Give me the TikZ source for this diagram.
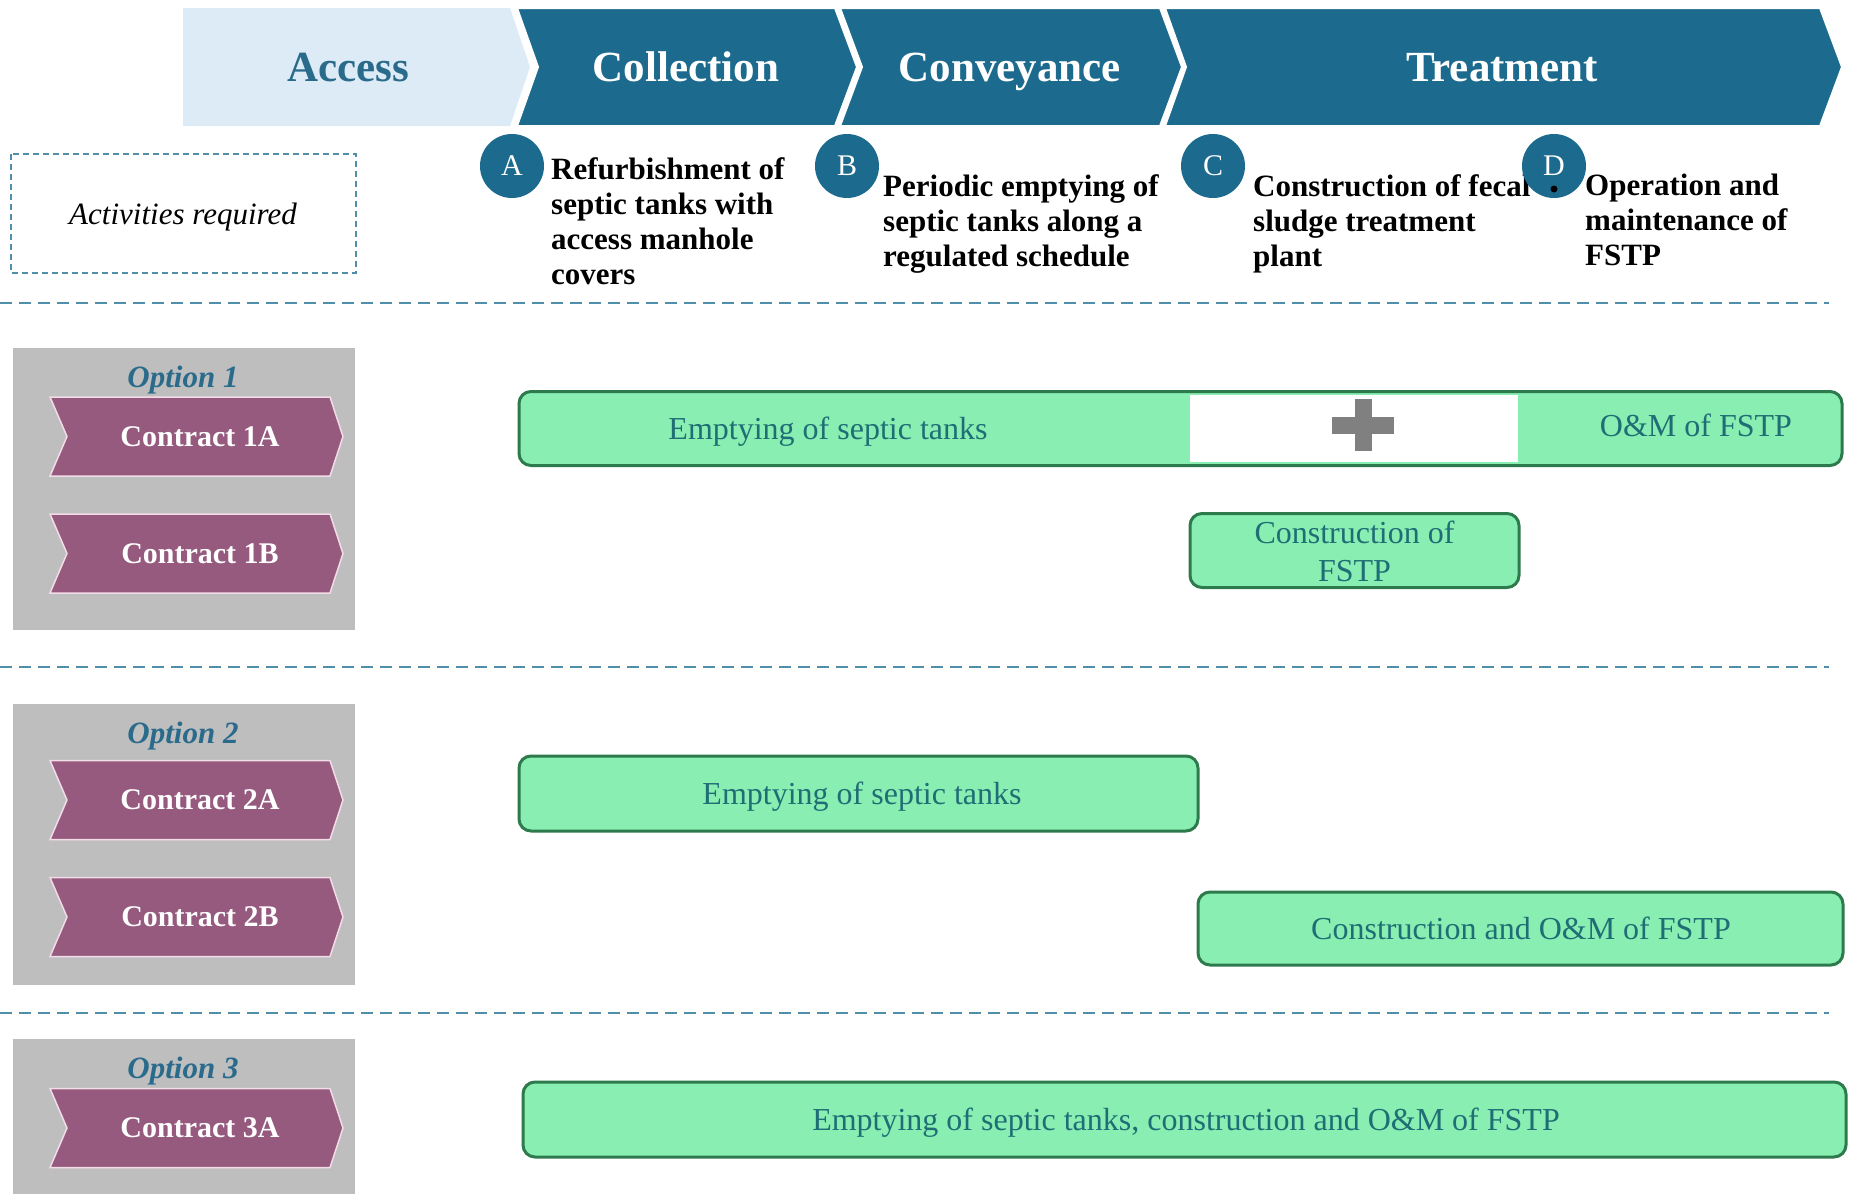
\documentclass[tikz,border=0pt]{standalone}
\usepackage{fontspec}
\setmainfont{Liberation Serif}
\definecolor{hdr}{HTML}{1C6A8D}
\definecolor{acc}{HTML}{DDEBF6}
\definecolor{acctext}{HTML}{2A6B8C}
\definecolor{purp}{HTML}{955A7E}
\definecolor{purpb}{HTML}{F2DCE6}
\definecolor{panel}{HTML}{BEBEBE}
\definecolor{mint}{HTML}{88EEB1}
\definecolor{mintb}{HTML}{2D7A4C}
\definecolor{minttext}{HTML}{1F6E75}
\definecolor{sepc}{HTML}{4F8FAA}
\definecolor{plusc}{HTML}{808080}
\begin{document}
\begin{tikzpicture}[x=1pt,y=-1pt,
  tbox/.style={text height=#1,text depth=0pt},
  hdrshape/.style={fill=hdr,draw=white,line width=2pt},
  hdrtext/.style={tbox=28.4pt,text=white,font=\fontsize{43}{50}\selectfont\bfseries,inner sep=0pt},
  circ/.style={circle,fill=hdr,minimum size=64pt,inner sep=0pt,text=white,font=\fontsize{30}{34}\selectfont},
  acttext/.style={anchor=north west,align=left,inner sep=0pt,font=\fontsize{31}{35}\selectfont\bfseries,text=black},
  sepline/.style={draw=sepc,line width=2pt,dash pattern=on 12pt off 7pt},
  panelbox/.style={fill=panel},
  opttext/.style={tbox=20.5pt,text=acctext,font=\fontsize{31}{36}\selectfont\bfseries\itshape,inner sep=0pt},
  contract/.style={fill=purp,draw=purpb,line width=1.5pt},
  ctext/.style={tbox=19.8pt,text=white,font=\fontsize{30}{34}\selectfont\bfseries,inner sep=0pt},
  bar/.style={draw=mintb,fill=mint,line width=3pt,rounded corners=12pt,inner sep=0pt},
  bartext/.style={text=minttext,font=\fontsize{32}{38}\selectfont,align=center,inner sep=0pt},
  bartext1/.style={bartext,tbox=21.1pt}
]
\useasboundingbox (0,0) rectangle (1850,1194);
\fill[white] (0,0) rectangle (1850,1194);

% ---------- header chevrons ----------
\fill[acc] (183,8) -- (510,8) -- (530,67) -- (510,126) -- (183,126) -- cycle;
\node[tbox=28.4pt,text=acctext,font=\fontsize{43}{50}\selectfont\bfseries,inner sep=0pt] (access) at (348,67) {Access};
\draw[hdrshape] (517,8) -- (835,8) -- (857,67) -- (835,126) -- (517,126) -- (538,67) -- cycle;
\node[hdrtext] (collection) at (686,67) {Collection};
\draw[hdrshape] (840,8) -- (1160,8) -- (1182,67) -- (1160,126) -- (840,126) -- (862,67) -- cycle;
\node[hdrtext] (conveyance) at (1010,67) {Conveyance};
\draw[hdrshape] (1165,8) -- (1820,8) -- (1842,67) -- (1820,126) -- (1165,126) -- (1186,67) -- cycle;
\node[hdrtext] (treatment) at (1502,67) {Treatment};

% ---------- activities ----------
\draw[draw=sepc,line width=1.5pt,dash pattern=on 6pt off 4pt] (11,154) rectangle (356,273);
\node[tbox=20.5pt,font=\fontsize{31}{36}\selectfont\itshape,inner sep=0pt] (actreq) at (183,214) {Activities required};

\node[acttext] (ta) at (551,157) {Refurbishment of\\septic tanks with\\access manhole\\covers};
\node[acttext] (tb) at (883,174) {Periodic emptying of\\septic tanks along a\\regulated schedule};
\node[acttext] (tc) at (1253,174) {Construction of fecal\\sludge treatment\\plant};
\node[acttext] (td) at (1585,174) {Operation and\\maintenance of\\FSTP};
\node[circ] (ca) at (512,166) {A};
\node[circ] (cb) at (847,166) {B};
\node[circ] (cc) at (1213,166) {C};
\node[circ] (cd) at (1554,166) {D};
\fill[black] (1554,189) circle (3.5pt);

% ---------- separators ----------
\coordinate (s1a) at (0,303);  \coordinate (s1b) at (1829,303);
\coordinate (s2a) at (0,667);  \coordinate (s2b) at (1829,667);
\coordinate (s3a) at (0,1013); \coordinate (s3b) at (1829,1013);
\draw[sepline] (s1a) -- (s1b);
\draw[sepline] (s2a) -- (s2b);
\draw[sepline] (s3a) -- (s3b);

% ---------- option panels ----------
\fill[panelbox] (13,348) rectangle (355,630);
\fill[panelbox] (13,704) rectangle (355,985);
\fill[panelbox] (13,1039) rectangle (355,1194);
\node[opttext] (opt1) at (183,377) {Option 1};
\node[opttext] (opt2) at (183,733) {Option 2};
\node[opttext] (opt3) at (183,1068) {Option 3};

\foreach \c/\t/\n in {436.5/Contract 1A/c1a, 553.5/Contract 1B/c1b, 800/Contract 2A/c2a, 917/Contract 2B/c2b, 1128/Contract 3A/c3a}{
  \draw[contract] (50,\c-39.5) -- (330,\c-39.5) -- (343,\c) -- (330,\c+39.5) -- (50,\c+39.5) -- (67,\c) -- cycle;
  \node[ctext] (\n) at (200,\c) {\t};
}

% ---------- bars ----------
\node[bar,minimum width=1323pt,minimum height=74pt] (bar1) at (1180.5,428.5) {};
\fill[white] (1190,395) rectangle (1518,462);
\fill[plusc] (1332,417) rectangle (1394,434);
\fill[plusc] (1354.5,399) rectangle (1371.5,451);
\node[bartext1] (b1l) at (828,429) {Emptying of septic tanks};
\node[bartext1] (b1r) at (1696,426) {O\&M of FSTP};

\node[bar,minimum width=329pt,minimum height=74pt] (bar1b) at (1354.5,550.5) {};
\node[bartext] (b1b) at (1354.5,551) {Construction of\\FSTP};

\node[bar,minimum width=679pt,minimum height=75pt] (bar2a) at (858.5,793.5) {};
\node[bartext1] (b2a) at (862,794) {Emptying of septic tanks};

\node[bar,minimum width=645pt,minimum height=73pt] (bar2b) at (1520.5,928.5) {};
\node[bartext1] (b2b) at (1521,929) {Construction and O\&M of FSTP};

\node[bar,minimum width=1323pt,minimum height=75pt] (bar3) at (1184.5,1119.5) {};
\node[bartext1] (b3) at (1186,1120) {Emptying of septic tanks, construction and O\&M of FSTP};
\end{tikzpicture}
\end{document}
